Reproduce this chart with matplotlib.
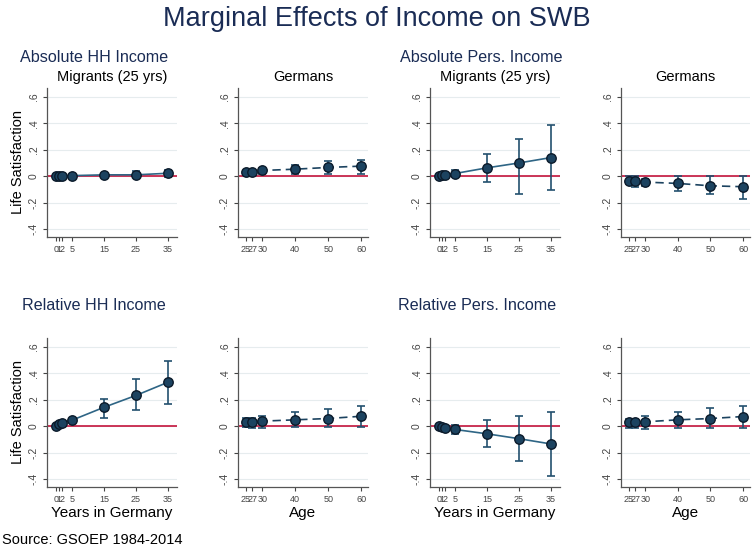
import numpy as np
import matplotlib
matplotlib.use("Agg")
from matplotlib import pyplot as plt

plt.rcParams['font.family'] = ['Liberation Sans', 'DejaVu Sans']

# x positions
years = [0, 1, 2, 5, 15, 25, 35]
ages = [25, 27, 30, 40, 50, 60]

# Absolute HH income
abs_hh_mig = [0.0, 0.002, 0.003, 0.004, 0.01, 0.01, 0.022]
abs_hh_mig_lo = [-0.003, -0.002, -0.001, -0.002, 0.0, -0.008, -0.004]
abs_hh_mig_hi = [0.003, 0.006, 0.007, 0.01, 0.02, 0.04, 0.05]
abs_hh_ger = [0.03, 0.03, 0.043, 0.053, 0.066, 0.076]
abs_hh_ger_lo = [0.02, 0.02, 0.02, 0.02, 0.02, 0.02]
abs_hh_ger_hi = [0.04, 0.04, 0.063, 0.088, 0.114, 0.12]

# Absolute personal income
abs_p_mig = [0.0, 0.008, 0.01, 0.02, 0.063, 0.10, 0.141]
abs_p_mig_lo = [-0.005, 0.002, 0.003, -0.01, -0.043, -0.136, -0.104]
abs_p_mig_hi = [0.005, 0.014, 0.017, 0.045, 0.167, 0.278, 0.389]
abs_p_ger = [-0.033, -0.035, -0.045, -0.055, -0.073, -0.08]
abs_p_ger_lo = [-0.06, -0.08, -0.075, -0.11, -0.134, -0.17]
abs_p_ger_hi = [0.0, 0.0, -0.018, 0.0, 0.0, 0.0]

# Relative HH income
rel_hh_mig = [0.0, 0.013, 0.025, 0.045, 0.143, 0.233, 0.333]
rel_hh_mig_lo = [-0.005, 0.005, 0.015, 0.035, 0.065, 0.12, 0.165]
rel_hh_mig_hi = [0.005, 0.02, 0.035, 0.055, 0.208, 0.355, 0.495]
rel_hh_ger = [0.035, 0.035, 0.038, 0.048, 0.058, 0.075]
rel_hh_ger_lo = [-0.005, -0.012, -0.012, -0.01, -0.01, -0.01]
rel_hh_ger_hi = [0.063, 0.063, 0.078, 0.11, 0.133, 0.155]

# Relative personal income
rel_p_mig = [0.0, -0.003, -0.013, -0.025, -0.058, -0.095, -0.135]
rel_p_mig_lo = [-0.004, -0.008, -0.02, -0.058, -0.158, -0.265, -0.38]
rel_p_mig_hi = [0.004, 0.002, -0.006, 0.005, 0.043, 0.075, 0.11]
rel_p_ger = [0.028, 0.028, 0.033, 0.048, 0.058, 0.073]
rel_p_ger_lo = [-0.012, -0.012, -0.018, -0.012, -0.012, -0.012]
rel_p_ger_hi = [0.058, 0.058, 0.078, 0.11, 0.135, 0.155]

yticks = [-0.4, -0.2, 0, 0.2, 0.4, 0.6]
ytick_labels = ["-.4", "-.2", "0", ".2", ".4", ".6"]

navy = "#1a2c55"
mk_face = "#1c4360"
mk_edge = "#0b1a2a"
line_col = "#2e6585"
bar_col = "#23506e"
red = "#c4143c"

W, H = 754, 550
fig = plt.figure(figsize=(W / 100, H / 100), dpi=100)


def make_ax(x0, x1, y0, y1):
    return fig.add_axes([x0 / W, 1 - y1 / H, (x1 - x0) / W, (y1 - y0) / H])


def panel(ax, x, y, lo, hi, xlim, xticks, dashed, ylabel=None, xlabel=None, title=None):
    x = np.array(x)
    y = np.array(y)
    lo = np.array(lo)
    hi = np.array(hi)
    for t in yticks:
        ax.axhline(t, color="#e6ecee", lw=0.8, zorder=0)
    ax.axhline(0, color=red, lw=1.2, zorder=1)
    ax.errorbar(x, y, yerr=[y - lo, hi - y], fmt="none", ecolor=bar_col,
                elinewidth=1.2, capsize=3, capthick=1.2, zorder=2)
    ax.plot(x, y, color=line_col if not dashed else mk_face, lw=1.2,
            ls=(0, (5, 3)) if dashed else "-", zorder=3)
    ax.plot(x, y, "o", ms=6.8, mfc=mk_face, mec=mk_edge, mew=1.0, zorder=4)
    ax.set_xlim(*xlim)
    ax.set_ylim(-0.461, 0.668)
    ax.set_xticks(xticks)
    ax.set_xticklabels([str(v) for v in xticks], fontsize=6.5, color="#333333")
    ax.set_yticks(yticks)
    ax.set_yticklabels(ytick_labels, fontsize=7.5, rotation=90, va="center", color="#333333")
    ax.tick_params(direction="out", length=3, width=0.8, pad=3, colors="#444444")
    for s in ["top", "right"]:
        ax.spines[s].set_visible(False)
    for s in ["left", "bottom"]:
        ax.spines[s].set_color("#555555")
        ax.spines[s].set_linewidth(0.9)
    if ylabel:
        ax.set_ylabel(ylabel, fontsize=10.5, labelpad=3)
    if xlabel:
        ax.set_xlabel(xlabel, fontsize=11, labelpad=1)
    if title:
        ax.set_title(title, fontsize=10.5, pad=5)


cols = [(47, 177), (238, 368), (430, 560), (621, 750)]
rows = [(88, 237), (338, 487)]
mig_lim = (-2.8, 37.8)
ger_lim = (22.6, 62.1)

panel(make_ax(*cols[0], *rows[0]), years, abs_hh_mig, abs_hh_mig_lo, abs_hh_mig_hi,
      mig_lim, years, False, ylabel="Life Satisfaction", title="Migrants (25 yrs)")
panel(make_ax(*cols[1], *rows[0]), ages, abs_hh_ger, abs_hh_ger_lo, abs_hh_ger_hi,
      ger_lim, ages, True, title="Germans")
panel(make_ax(*cols[2], *rows[0]), years, abs_p_mig, abs_p_mig_lo, abs_p_mig_hi,
      mig_lim, years, False, title="Migrants (25 yrs)")
panel(make_ax(*cols[3], *rows[0]), ages, abs_p_ger, abs_p_ger_lo, abs_p_ger_hi,
      ger_lim, ages, True, title="Germans")

panel(make_ax(*cols[0], *rows[1]), years, rel_hh_mig, rel_hh_mig_lo, rel_hh_mig_hi,
      mig_lim, years, False, ylabel="Life Satisfaction", xlabel="Years in Germany")
panel(make_ax(*cols[1], *rows[1]), ages, rel_hh_ger, rel_hh_ger_lo, rel_hh_ger_hi,
      ger_lim, ages, True, xlabel="Age")
panel(make_ax(*cols[2], *rows[1]), years, rel_p_mig, rel_p_mig_lo, rel_p_mig_hi,
      mig_lim, years, False, xlabel="Years in Germany")
panel(make_ax(*cols[3], *rows[1]), ages, rel_p_ger, rel_p_ger_lo, rel_p_ger_hi,
      ger_lim, ages, True, xlabel="Age")

fig.text(0.5, 1 - 19 / H, "Marginal Effects of Income on SWB", ha="center", va="center",
         fontsize=19.5, color=navy)
fig.text(20 / W, 1 - 57 / H, "Absolute HH Income", ha="left", va="center", fontsize=11.6, color=navy)
fig.text(400 / W, 1 - 57 / H, "Absolute Pers. Income", ha="left", va="center", fontsize=11.6, color=navy)
fig.text(22 / W, 1 - 305 / H, "Relative HH Income", ha="left", va="center", fontsize=11.6, color=navy)
fig.text(398 / W, 1 - 305 / H, "Relative Pers. Income", ha="left", va="center", fontsize=11.6, color=navy)
fig.text(2 / W, 1 - 540 / H, "Source: GSOEP 1984-2014", ha="left", va="center", fontsize=10.5)

fig.savefig("out.png", dpi=100)
